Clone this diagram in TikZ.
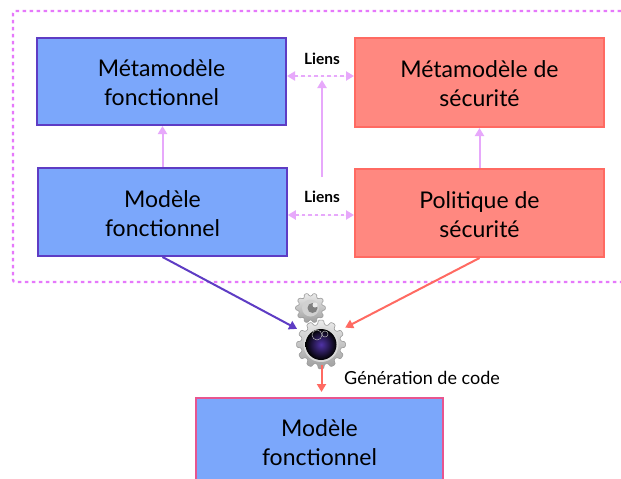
\documentclass[tikz,border=0pt]{standalone}
\usepackage{fontspec}
\setmainfont{Lato}
\usetikzlibrary{arrows.meta,calc}
\definecolor{bluefill}{HTML}{7BA7FB}
\definecolor{blueline}{HTML}{5E3CC4}
\definecolor{redfill}{HTML}{FF8880}
\definecolor{redline}{HTML}{FF6A62}
\definecolor{lilac}{HTML}{E7A8FB}
\definecolor{dashmag}{HTML}{E678FB}
\definecolor{pinkline}{HTML}{E8558F}
\definecolor{gearout}{HTML}{9A9A9A}
\newcommand{\dn}{\rule{0pt}{20pt}}
\tikzset{
  fbox/.style={draw=blueline,fill=bluefill,line width=2pt,align=center,font=\fontsize{23}{29}\selectfont,text=black,inner sep=0pt},
  sbox/.style={draw=redline,fill=redfill,line width=2pt,align=center,font=\fontsize{23}{29}\selectfont,text=black,inner sep=0pt},
  lien/.style={font=\fontsize{15.5}{18}\bfseries\selectfont,inner sep=0pt},
  tip/.style={-{Triangle[length=8pt,width=9pt]}},
  tipa/.style={{Triangle[length=8pt,width=9pt]}-{Triangle[length=8pt,width=9pt]}},
  liline/.style={draw=lilac,line width=2pt},
  gearshape/.style={draw=gearout,line width=.6pt,rounded corners=1pt,top color=black!8,bottom color=black!38}
}
\newcommand{\gearat}[5]{% x,y,outer,inner,teeth
  \pgfmathsetmacro{\stp}{360/#5}
  \path[gearshape] 
    \foreach \k in {1,...,#5}{
      \ifnum\k=1 ($(#1,#2)+({\k*\stp-.34*\stp}:#4)$) \else -- ($(#1,#2)+({\k*\stp-.34*\stp}:#4)$) \fi
      -- ($(#1,#2)+({\k*\stp-.2*\stp}:#3)$)
      -- ($(#1,#2)+({\k*\stp+.2*\stp}:#3)$)
      -- ($(#1,#2)+({\k*\stp+.34*\stp}:#4)$)
    } -- cycle;
}
\begin{document}
\begin{tikzpicture}[x=1pt,y=-1pt]
\useasboundingbox (0,0) rectangle (621,479);
\clip (0,0) rectangle (621,479);
\fill[white] (0,0) rectangle (621,479);
% dashed frame
\draw[draw=dashmag,line width=2.2pt,dash pattern=on 3.4pt off 3.6pt,rounded corners=2pt] (621,11) -- (13,11) -- (13,282) -- (621,282);
% boxes
\node[fbox,minimum width=249pt,minimum height=87pt] (mmf) at (161.5,81.5) {\dn Métamodèle\\fonctionnel};
\node[sbox,minimum width=249pt,minimum height=89pt] (mms) at (479.5,82.5) {\dn Métamodèle de\\sécurité};
\node[fbox,minimum width=248.5pt,minimum height=88pt] (mf) at (162.5,212) {\dn Modèle\\fonctionnel};
\node[sbox,minimum width=249pt,minimum height=88pt] (ps) at (479.5,213) {\dn Politique de\\sécurité};
\node[draw=pinkline,fill=bluefill,line width=2pt,align=center,font=\fontsize{23}{29}\selectfont,text=black,inner sep=0pt,minimum width=247pt,minimum height=90pt] (out) at (319.5,443) {Modèle\\fonctionnel};
% labels
\node[lien] (l1) at (322,59) {Liens};
\node[lien] (l2) at (322,197) {Liens};
\coordinate (up) at (322,177);
\coordinate (upend) at (322,80);
% links
\draw[liline,tip] (mf.north) -- (mf.north |- mmf.south);
\draw[liline,tip] (ps.north) -- (mms.south);
\draw[liline,tip] (up) -- (upend);
\path[draw=lilac,fill=lilac,line width=2pt,tipa,dash pattern=on 3.5pt off 3pt] (mmf.east |- 0,76) coordinate (a1) -- (mms.west |- 0,76) coordinate (a2);
\path[draw=lilac,fill=lilac,line width=2pt,tipa,dash pattern=on 3.5pt off 3pt] (mf.east |- 0,215) coordinate (b1) -- (ps.west |- 0,215) coordinate (b2);
% gears
\gearat{310.5}{308}{15}{12}{10}
\fill[black!18] (310.5,308) circle (8.5pt);
\fill[black!50] (312.5,308) circle (5pt);
\fill[black!8] (315,305) circle (2.5pt);
\gearat{321}{344.5}{24.5}{20}{12}
\fill[black!15] (321,344.5) circle (17.5pt);
\shade[inner color=blueline!85!black,outer color=black] (321,344.5) circle (15.5pt);
\draw[white!70!black,line width=.5pt] (317,335) circle (5pt);
\draw[white!70!black,line width=.5pt] (325,334) circle (3pt);
\node[circle,minimum size=56pt,inner sep=0pt] (gear) at (321.5,343) {};
\node[font=\fontsize{18}{20}\selectfont,inner sep=0pt,anchor=west] (gen) at (344,378) {Génération de code};
% flows
\draw[draw=blueline,line width=2pt,tip] (mf.south) -- (gear.150);
\draw[draw=redline,line width=2pt,tip] (ps.south) -- (gear.33);
\draw[draw=redline,line width=2pt,tip,shorten <=-6pt,shorten >=5pt] (gear.south) -- (out.north -| gear.south);
\end{tikzpicture}
\end{document}
